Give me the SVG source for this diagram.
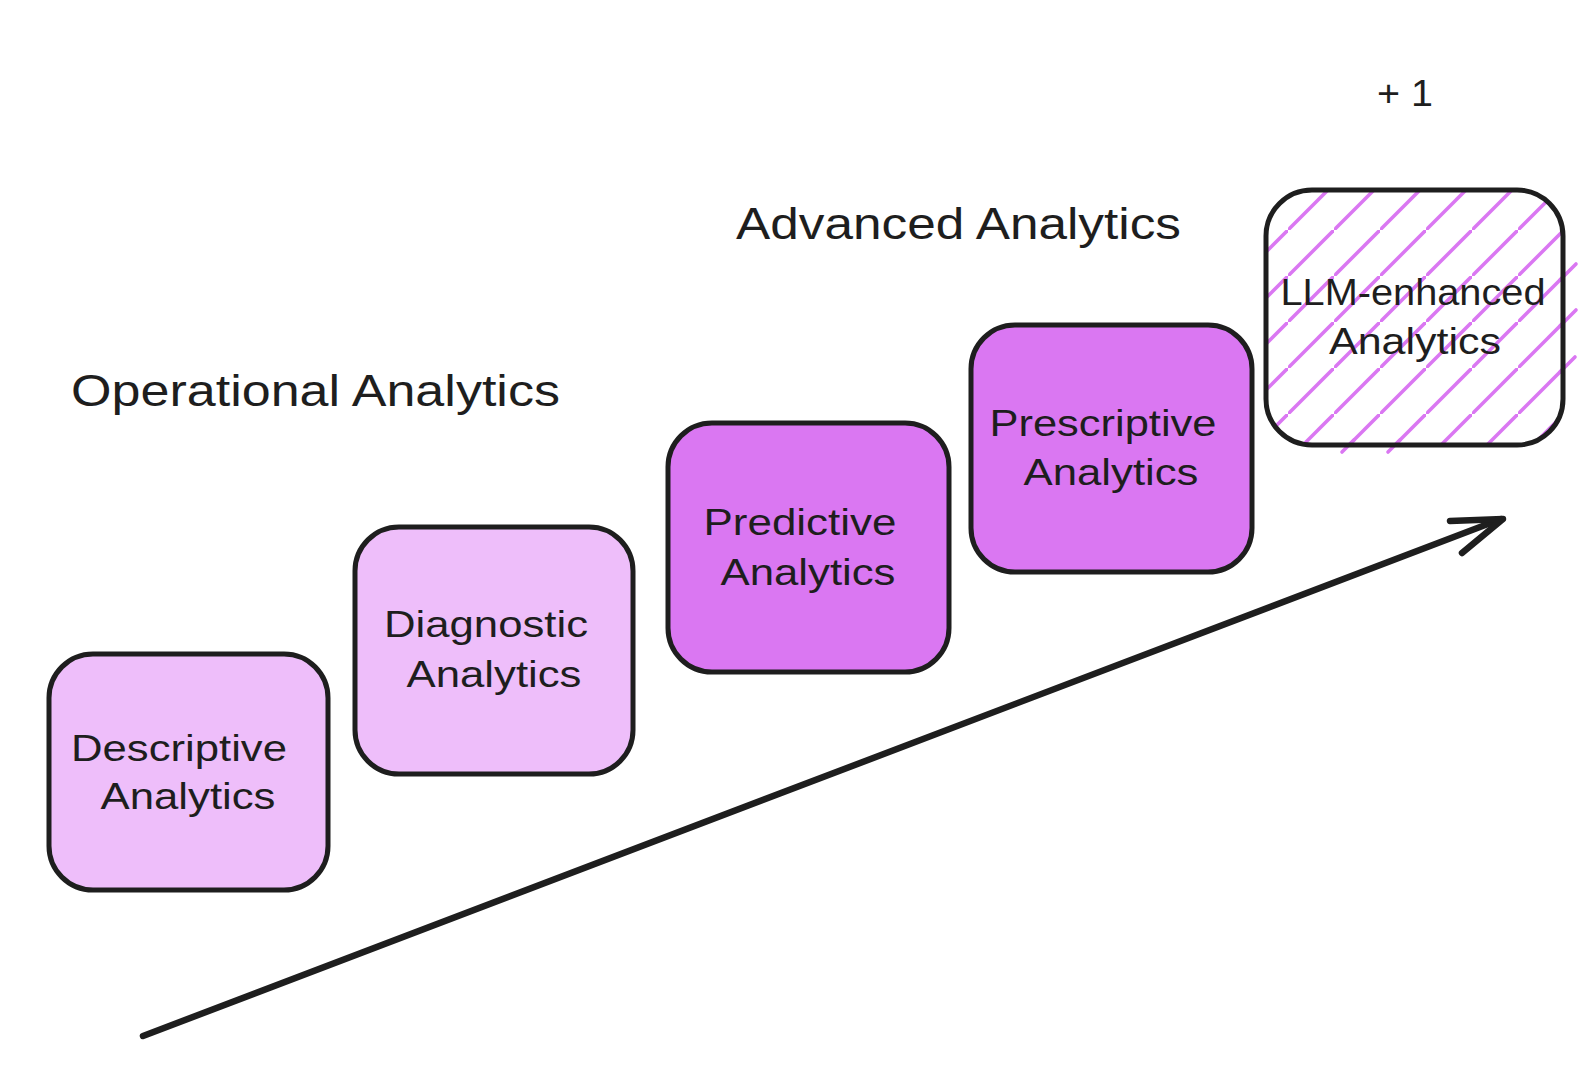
<svg xmlns="http://www.w3.org/2000/svg" width="1596" height="1072" viewBox="0 0 1596 1072">
<style>
.box{stroke:#1e1e1e;stroke-width:5;stroke-linejoin:round}
.light{fill:#eebefa}
.dark{fill:#da77f2}
.lbl{font-family:"Liberation Sans","DejaVu Sans",sans-serif;font-size:36px;fill:#1e1e1e;text-anchor:middle}
.title{font-family:"Liberation Sans","DejaVu Sans",sans-serif;font-size:44px;fill:#1e1e1e}
.conn{stroke:#1e1e1e;stroke-width:6.5;stroke-linecap:round;stroke-linejoin:round;fill:none}
.hl{stroke:#da77f2;stroke-width:3.6;stroke-linecap:round}
</style>
<defs>
<pattern id="hatch" patternUnits="userSpaceOnUse" x="0" y="0" width="46" height="46">
<line x1="-4" y1="50" x2="50" y2="-4" stroke="#da77f2" stroke-width="3.6"/>
</pattern>
</defs>
<rect width="1596" height="1072" fill="#ffffff"/>

<g id="title-operational">
<text class="title" x="71" y="406" textLength="489" lengthAdjust="spacingAndGlyphs">Operational Analytics</text>
</g>
<g id="title-advanced">
<text class="title" x="736" y="239" textLength="445" lengthAdjust="spacingAndGlyphs">Advanced Analytics</text>
</g>
<g id="plus-one">
<text class="lbl" x="1405" y="106" textLength="56" lengthAdjust="spacingAndGlyphs">+ 1</text>
</g>

<g id="node-descriptive">
<rect class="box light" x="49" y="654" width="279" height="236" rx="44"/>
<text class="lbl" x="179" y="761" textLength="216" lengthAdjust="spacingAndGlyphs">Descriptive</text>
<text class="lbl" x="188" y="809" textLength="175" lengthAdjust="spacingAndGlyphs">Analytics</text>
</g>

<g id="node-diagnostic">
<rect class="box light" x="355" y="527" width="278" height="247" rx="44"/>
<text class="lbl" x="486" y="637" textLength="204" lengthAdjust="spacingAndGlyphs">Diagnostic</text>
<text class="lbl" x="494" y="687" textLength="175" lengthAdjust="spacingAndGlyphs">Analytics</text>
</g>

<g id="node-predictive">
<rect class="box dark" x="668" y="423" width="281" height="249" rx="44"/>
<text class="lbl" x="800" y="535" textLength="193" lengthAdjust="spacingAndGlyphs">Predictive</text>
<text class="lbl" x="808" y="585" textLength="175" lengthAdjust="spacingAndGlyphs">Analytics</text>
</g>

<g id="node-prescriptive">
<rect class="box dark" x="971" y="325" width="281" height="247" rx="44"/>
<text class="lbl" x="1103" y="436" textLength="227" lengthAdjust="spacingAndGlyphs">Prescriptive</text>
<text class="lbl" x="1111" y="485" textLength="175" lengthAdjust="spacingAndGlyphs">Analytics</text>
</g>

<g id="node-llm">
<rect x="1266" y="190" width="297" height="255" rx="46" fill="url(#hatch)"/>
<line class="hl" x1="1560" y1="280" x2="1576" y2="264"/>
<line class="hl" x1="1560" y1="326" x2="1576" y2="310"/>
<line class="hl" x1="1560" y1="372" x2="1575" y2="357"/>
<line class="hl" x1="1342" y1="452" x2="1354" y2="440"/>
<line class="hl" x1="1388" y1="452" x2="1400" y2="440"/>
<rect class="box" x="1266" y="190" width="297" height="255" rx="46" fill="none" stroke-width="6.5"/>
<text class="lbl" x="1413" y="305" textLength="265" lengthAdjust="spacingAndGlyphs">LLM-enhanced</text>
<text class="lbl" x="1415" y="354" textLength="172" lengthAdjust="spacingAndGlyphs">Analytics</text>
</g>

<g id="connectors">
<line class="conn" x1="143" y1="1036" x2="1501" y2="519"/>
<polyline class="conn" points="1450,521 1503,519 1462,553"/>
</g>
</svg>
